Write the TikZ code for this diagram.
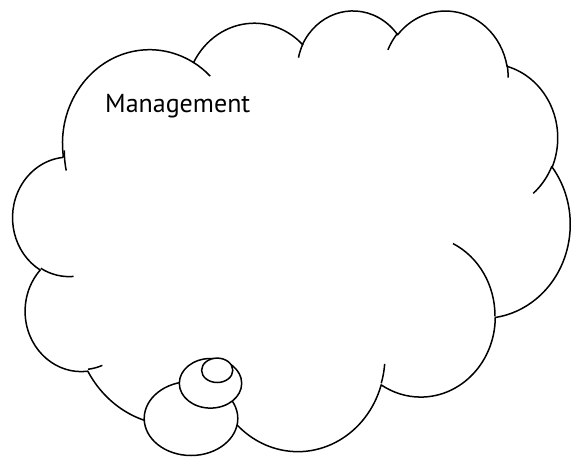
\documentclass[tikz,border=0pt]{standalone}
\usepackage{fontspec}
\setmainfont{PT Sans}
\newcommand\ooarc[5]{%
  \pgfmathsetmacro\ooR{atan2((#2)*sin(#4),(#3)*cos(#4))}%
  \pgfmathsetmacro\ooD{(\ooR)-(#4)}%
  \pgfmathsetmacro\ooA{(#4)+(\ooD)-360*round((\ooD)/360)}%
  \pgfmathsetmacro\ooT{(#4)+(#5)}%
  \pgfmathsetmacro\ooR{atan2((#2)*sin(\ooT),(#3)*cos(\ooT))}%
  \pgfmathsetmacro\ooD{(\ooR)-(\ooT)}%
  \pgfmathsetmacro\ooB{(\ooT)+(\ooD)-360*round((\ooD)/360)}%
  \expandafter\xdef\csname #1\endcsname{arc[start angle=\ooA, end angle=\ooB, x radius=#2, y radius=#3]}%
}
\begin{document}
\begin{tikzpicture}[x=1pt,y=-1pt,
  cloudline/.style={line width=1.5pt, line join=round, draw=black}]
\ooarc{cloudA}{675.3}{919.0}{-190.48748}{123.78053}
\ooarc{cloudB}{533.3}{726.7}{-144.10238}{89.94523}
\ooarc{cloudC}{436.5}{594.5}{-145.80792}{99.72302}
\ooarc{cloudD}{485.7}{659.5}{-130.98607}{117.24173}
\ooarc{cloudE}{533.3}{727.3}{-78.70888}{109.02692}
\ooarc{cloudF}{677.5}{922.0}{-46.26725}{130.269}
\ooarc{cloudG}{578.5}{786.7}{0.62502}{114.03333}
\ooarc{cloudH}{675.2}{921.5}{22.4516}{115.17255}
\ooarc{cloudI}{772.0}{1054.3}{66.24263}{75.71102}
\ooarc{cloudJ}{436.0}{591.8}{-274.94208}{146.73557}
\ooarc{cloudK}{434.5}{594.5}{-246.8285}{152.51885}
\ooarc{innerA}{434.5}{594.5}{86.742}{26.4295}
\ooarc{innerB}{436.0}{591.8}{73.61047}{11.44747}
\ooarc{innerC}{675.2}{921.5}{137.62415}{14.0811}
\ooarc{innerD}{675.2}{921.5}{6.45327}{15.99835}
\ooarc{innerE}{578.5}{786.7}{-70.29235}{70.91737}
\ooarc{innerF}{533.3}{727.3}{30.31803}{27.7515}
\ooarc{innerG}{485.7}{659.5}{-13.74433}{14.85242}
\ooarc{innerH}{485.7}{659.5}{-149.18145}{18.18418}
\ooarc{innerI}{436.5}{594.5}{-163.49427}{17.69525}
\ooarc{innerJ}{675.3}{919.0}{-66.70695}{12.31935}
\ooarc{innerK}{675.3}{919.0}{163.77482}{16.74803}
\fill[white] (0,0) rectangle (571,456);
\useasboundingbox (0,0) rectangle (571,456);
\begin{scope}[shift={(13,9.5)}, x=0.128935pt, y=-0.101968pt]
  \draw[cloudline, fill=white] (390,1437) \cloudA \cloudB \cloudC \cloudD \cloudE \cloudF \cloudG \cloudH \cloudI \cloudJ \cloudK -- cycle;
  \draw[cloudline] (469.3,2617.7) \innerA;
  \draw[cloudline] (692.8,3489.9) \innerB;
  \draw[cloudline] (1647.8,3909.0) \innerC;
  \draw[cloudline] (2882.7,3475.1) \innerD;
  \draw[cloudline] (3412.9,2295.4) \innerE;
  \draw[cloudline] (4179.8,1535.4) \innerF;
  \draw[cloudline] (3832.4,542.6) \innerG;
  \draw[cloudline] (2907.8,395.2) \innerH;
  \draw[cloudline] (2214.1,472.0) \innerI;
  \draw[cloudline] (1400.0,519.2) \innerJ;
  \draw[cloudline] (412.7,1578.9) \innerK;
\end{scope}
\draw[cloudline, fill=white] (191,418.5) ellipse [x radius=46.8, y radius=37];
\draw[cloudline, fill=white] (210.5,383.3) ellipse [x radius=31.2, y radius=24.8];
\draw[cloudline, fill=white] (217.2,370.3) ellipse [x radius=15.6, y radius=12.2];
\node[anchor=base west, inner sep=0pt, font=\fontsize{26}{30}\selectfont] (label) at (105,112.3) {Management};
\end{tikzpicture}
\end{document}
